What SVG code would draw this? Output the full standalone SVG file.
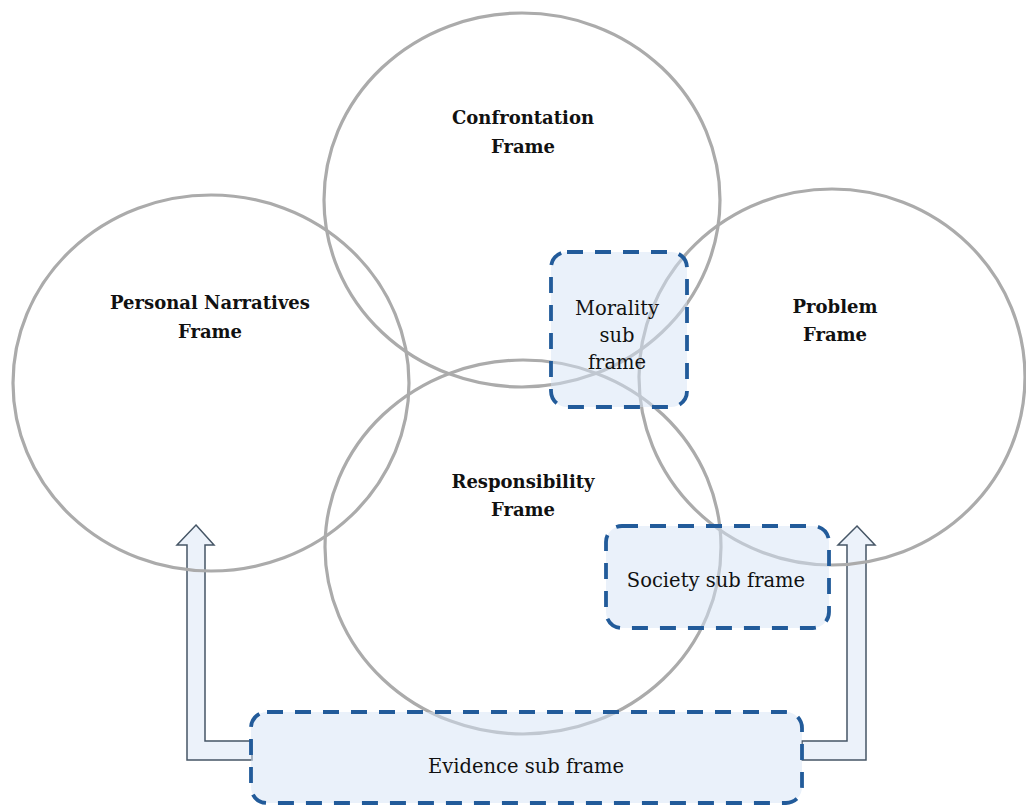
<svg xmlns="http://www.w3.org/2000/svg" width="1026" height="805" viewBox="0 0 1026 805">
<style>
.frame{fill:none;stroke:#ababab;stroke-width:3.2}
.sub{fill:#d6e4f5;fill-opacity:0.5;stroke:#225b9a;stroke-width:3.8;stroke-dasharray:16 12}
.arrow{fill:#dfe9f6;fill-opacity:0.6;stroke:#465666;stroke-width:1.5;stroke-linejoin:miter}
.t{font-family:"DejaVu Serif","Liberation Serif",serif;fill:#111;text-anchor:middle}
.b{font-weight:bold;font-size:18px}
.r{font-size:19.5px}
</style>
<rect width="1026" height="805" fill="#fff"/>
<g id="connectors">
<polygon class="arrow" points="196,525 214,545 205,545 205,741 252,741 252,760 187,760 187,545 177,545"/>
<polygon class="arrow" points="857,526 875,545 866,545 866,760 802,760 802,741 847,741 847,545 838,545"/>
</g>
<g id="confrontation">
<ellipse class="frame" cx="522" cy="200" rx="198" ry="187"/>
<text class="t b" x="523" y="124">Confrontation</text>
<text class="t b" x="523" y="153">Frame</text>
</g>
<g id="personal">
<ellipse class="frame" cx="211" cy="383" rx="198" ry="188"/>
<text class="t b" x="210" y="309">Personal Narratives</text>
<text class="t b" x="210" y="338">Frame</text>
</g>
<g id="problem">
<ellipse class="frame" cx="832" cy="377" rx="193" ry="188"/>
<text class="t b" x="835" y="313">Problem</text>
<text class="t b" x="835" y="341">Frame</text>
</g>
<g id="responsibility">
<ellipse class="frame" cx="523" cy="547" rx="198" ry="187"/>
<text class="t b" x="523" y="488">Responsibility</text>
<text class="t b" x="523" y="516">Frame</text>
</g>
<g id="morality">
<rect class="sub" x="551" y="252" width="136" height="155" rx="16"/>
<text class="t r" x="617" y="315">Morality</text>
<text class="t r" x="617" y="342">sub</text>
<text class="t r" x="617" y="369">frame</text>
</g>
<g id="society">
<rect class="sub" x="606" y="526" width="223" height="102" rx="16"/>
<text class="t r" x="716" y="587">Society sub frame</text>
</g>
<g id="evidence">
<rect class="sub" x="251" y="712" width="551" height="91" rx="16"/>
<text class="t r" x="526" y="773">Evidence sub frame</text>
</g>
</svg>
